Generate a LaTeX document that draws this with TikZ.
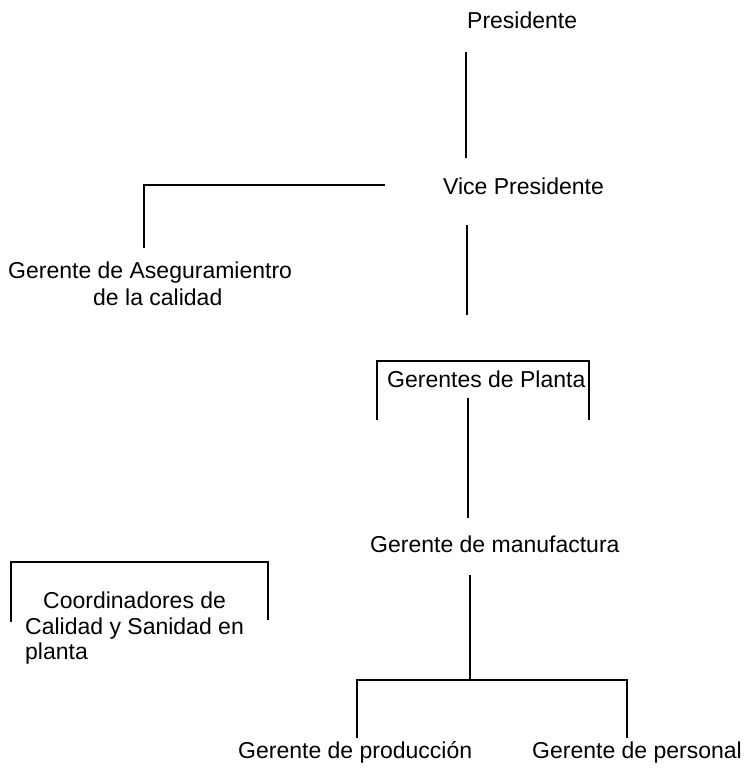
\documentclass[tikz,border=0pt]{standalone}
\usepackage{fontspec}
\setmainfont{Liberation Sans}
\begin{document}
\begin{tikzpicture}[x=1pt,y=-1pt,
  lbl/.style={anchor=base west,inner sep=0pt,font=\fontsize{23}{27}\selectfont},
  conn/.style={line width=2.2pt,line cap=butt,line join=miter}]
\useasboundingbox (0,0) rectangle (754,772);
% labels
\node[lbl] (P) at (467,28) {Presidente};
\node[lbl] (VP) at (443,194) {Vice Presidente};
\node[lbl] (QA1) at (8,278) {Gerente de Aseguramientro};
\node[lbl] (QA2) at (93,305) {de la calidad};
\node[lbl] (GP) at (387,387) {Gerentes de Planta};
\node[lbl] (GM) at (370,552) {Gerente de manufactura};
\node[lbl] (C1) at (43,608) {Coordinadores de};
\node[lbl] (C2) at (25,634) {Calidad y Sanidad en};
\node[lbl] (C3) at (25,659) {planta};
\node[lbl] (PR) at (238,758) {Gerente de producción};
\node[lbl] (PE) at (532,758) {Gerente de personal};
% connector end points
\coordinate (p1) at (466,52);   \coordinate (p2) at (466,158);
\coordinate (q1) at (385,185);  \coordinate (q2) at (144,185); \coordinate (q3) at (144,248);
\coordinate (v1) at (467,225);  \coordinate (v2) at (467,315);
\coordinate (g1) at (377,420);  \coordinate (g2) at (377,361);
\coordinate (g3) at (589,361);  \coordinate (g4) at (589,420);
\coordinate (g5) at (468,398);  \coordinate (g6) at (468,518);
\coordinate (m1) at (470,575);  \coordinate (m2) at (470,680);
\coordinate (b1) at (357,738);  \coordinate (b2) at (357,680);
\coordinate (b3) at (627,680);  \coordinate (b4) at (627,738);
\coordinate (c1) at (11,622);   \coordinate (c2) at (11,562);
\coordinate (c3) at (268,562);  \coordinate (c4) at (268,620);
% connectors
\draw[conn] (p1) -- (p2);
\draw[conn] (q1) -- (q2) -- (q3);
\draw[conn] (v1) -- (v2);
\draw[conn] (g1) -- (g2) -- (g3) -- (g4);
\draw[conn] (g5) -- (g6);
\draw[conn] (m1) -- (m2);
\draw[conn] (b1) -- (b2) -- (b3) -- (b4);
\draw[conn] (c1) -- (c2) -- (c3) -- (c4);
\end{tikzpicture}
\end{document}
